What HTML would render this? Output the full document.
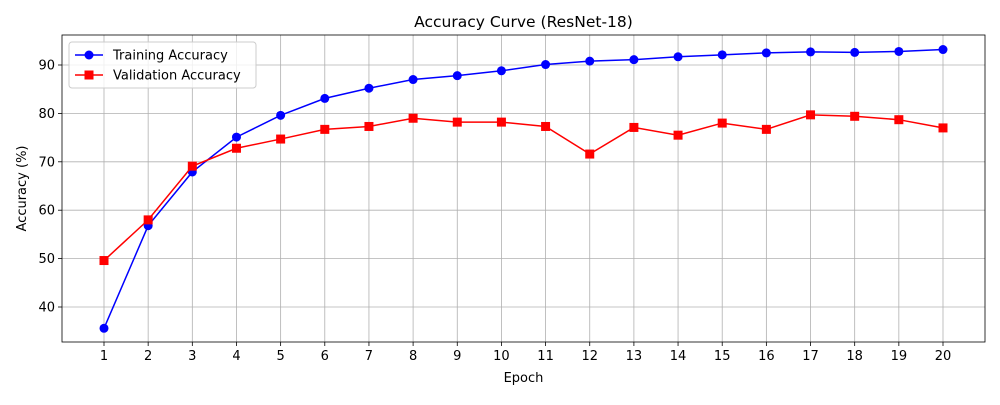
<!DOCTYPE html>
<html><head><meta charset="utf-8"><style>
body{margin:0;background:#fff;width:1000px;height:400px;overflow:hidden;font-family:"Liberation Sans","DejaVu Sans",sans-serif}
</style></head><body>
<svg id="chart" width="1000" height="400" xmlns="http://www.w3.org/2000/svg" font-family="'DejaVu Sans','Liberation Sans',sans-serif"></svg>
<script>
const epochs=[1,2,3,4,5,6,7,8,9,10,11,12,13,14,15,16,17,18,19,20];
const trainAcc=[35.6,56.8,67.9,75.1,79.6,83.1,85.2,87.0,87.8,88.8,90.1,90.8,91.1,91.7,92.1,92.5,92.7,92.6,92.8,93.2];
const valAcc=[49.6,58.0,69.1,72.8,74.7,76.7,77.3,79.0,78.2,78.2,77.3,71.6,77.1,75.5,78.0,76.7,79.7,79.4,78.7,77.0];
const yTicks=[40,50,60,70,80,90];
const L=62,R=985,T=35,B=342;
const x=e=>104+(e-1)*(943-104)/19;
const y=v=>307-(v-40)*4.84;
const svg=document.getElementById('chart');
const NS='http://www.w3.org/2000/svg';
function el(t,a,p){const n=document.createElementNS(NS,t);for(const k in a)n.setAttribute(k,a[k]);(p||svg).appendChild(n);return n;}
// grid
epochs.forEach(e=>{
 const g=el('line',{x1:x(e),x2:x(e),y1:T,y2:B,stroke:'#b0b0b0','stroke-width':0.8});
 
 
 el('line',{x1:x(e),x2:x(e),y1:B,y2:B+4,stroke:'#000','stroke-width':0.8});
 const t=el('text',{x:x(e),y:B+18,'text-anchor':'middle','font-size':13});t.textContent=e;
 
 
});
yTicks.forEach(v=>{
 const g=el('line',{x1:L,x2:R,y1:y(v),y2:y(v),stroke:'#b0b0b0','stroke-width':0.8});
 
 
 el('line',{x1:L-4,x2:L,y1:y(v),y2:y(v),stroke:'#000','stroke-width':0.8});
 const t=el('text',{x:L-7,y:y(v)+4.5,'text-anchor':'end','font-size':13});t.textContent=v;
 
 
});
const frame=el('rect',{x:L,y:T,width:R-L,height:B-T,fill:'none',stroke:'#000','stroke-width':0.8});


// series
const tl=el('polyline',{points:epochs.map((e,i)=>x(e)+','+y(trainAcc[i])).join(' '),fill:'none',stroke:'#0000ff','stroke-width':1.5});


epochs.forEach((e,i)=>{const c=el('circle',{cx:x(e),cy:y(trainAcc[i]),r:4.5,fill:'#0000ff'});
 
 });
const vl=el('polyline',{points:epochs.map((e,i)=>x(e)+','+y(valAcc[i])).join(' '),fill:'none',stroke:'#ff0000','stroke-width':1.5});


epochs.forEach((e,i)=>{const r=el('rect',{x:x(e)-4.5,y:y(valAcc[i])-4.5,width:9,height:9,fill:'#ff0000'});
 
 });
// titles
let t=el('text',{x:(L+R)/2,y:27,'text-anchor':'middle','font-size':15.5});t.textContent='Accuracy Curve (ResNet-18)';

t=el('text',{x:(L+R)/2,y:382,'text-anchor':'middle','font-size':13});t.textContent='Epoch';

t=el('text',{x:26,y:(T+B)/2,'text-anchor':'middle','font-size':13,transform:'rotate(-90 26 '+(T+B)/2+')'});t.textContent='Accuracy (%)';

// legend
const lg=el('g',{});

el('rect',{x:69,y:42,width:187,height:46,rx:3,fill:'#fff','fill-opacity':0.8,stroke:'#ccc'},lg);
el('line',{x1:75,x2:103,y1:55,y2:55,stroke:'#0000ff','stroke-width':1.5},lg);
el('circle',{cx:89,cy:55,r:4.5,fill:'#0000ff'},lg);
t=el('text',{x:113,y:59.5,'font-size':13},lg);t.textContent='Training Accuracy';

el('line',{x1:75,x2:103,y1:75,y2:75,stroke:'#ff0000','stroke-width':1.5},lg);
el('rect',{x:84.5,y:70.5,width:9,height:9,fill:'#ff0000'},lg);
t=el('text',{x:113,y:79.5,'font-size':13},lg);t.textContent='Validation Accuracy';

</script>
</body></html>
